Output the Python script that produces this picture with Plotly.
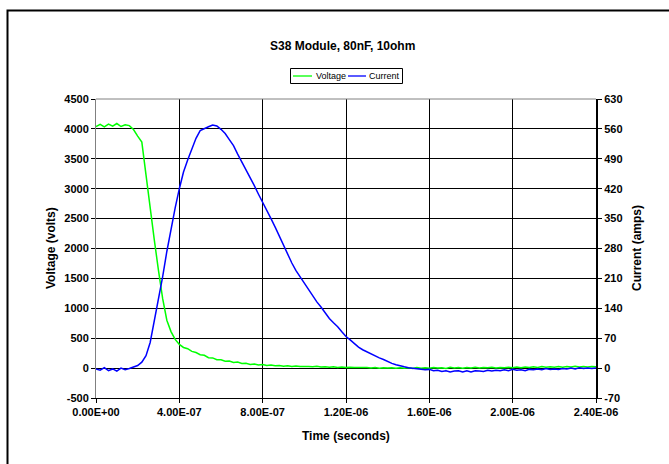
import plotly.graph_objects as go

# ---- data ----
time_ns = [
    0, 20, 40, 60, 80, 100, 120, 140, 160, 180,
    200, 220, 240, 260, 280, 300, 320, 340, 360, 380,
    400, 420, 440, 460, 480, 500, 520, 540, 560, 580,
    600, 620, 640, 660, 680, 700, 720, 740, 760, 780,
    800, 820, 840, 860, 880, 900, 920, 940, 960, 980,
    1000, 1020, 1040, 1060, 1080, 1100, 1120, 1140, 1160, 1180,
    1200, 1220, 1240, 1260, 1280, 1300, 1320, 1340, 1360, 1380,
    1400, 1420, 1440, 1460, 1480, 1500, 1520, 1540, 1560, 1580,
    1600, 1620, 1640, 1660, 1680, 1700, 1720, 1740, 1760, 1780,
    1800, 1820, 1840, 1860, 1880, 1900, 1920, 1940, 1960, 1980,
    2000, 2020, 2040, 2060, 2080, 2100, 2120, 2140, 2160, 2180,
    2200, 2220, 2240, 2260, 2280, 2300, 2320, 2340, 2360, 2380,
    2400,
]

voltage_v = [
    4040, 4075, 4035, 4080, 4045, 4090, 4040, 4070, 4055, 3990,
    3880, 3780, 3230, 2630, 2140, 1630, 1160, 800, 610, 480,
    395, 345, 325, 280, 260, 225, 215, 175, 170, 140,
    140, 115, 120, 95, 100, 78, 82, 62, 70, 52,
    60, 45, 52, 38, 45, 33, 40, 28, 36, 26,
    29, 27, 22, 30, 20, 24, 15, 22, 12, 18,
    10, 16, 8, 12, 4, 10, 2, 8, -2, 6,
    0, 5, -4, 6, -3, 4, -5, 8, -2, 5,
    -4, 10, 0, 6, -5, 12, 2, 8, -3, 10,
    3, 12, 0, 9, 4, 14, 2, 11, 6, 16,
    5, 18, 8, 20, 10, 22, 12, 25, 14, 24,
    16, 28, 15, 26, 18, 30, 17, 27, 20, 28,
    22,
]

current_a = [
    -2, -5, 1, -6, -2, -7, 0, -4, -1, 2,
    6, 14, 29, 60, 109, 164, 214, 273, 326, 375,
    420, 459, 487, 514, 538, 556, 561, 565, 569, 567,
    559, 549, 535, 521, 501, 483, 465, 447, 427, 407,
    389, 370, 350, 330, 308, 287, 265, 246, 228, 213,
    197, 182, 168, 155, 143, 129, 116, 106, 97, 85,
    74, 66, 57, 49, 43, 38, 33, 28, 24, 20,
    15, 11, 8, 5, 3, 1, 0, -1, -2, -4,
    -3, -6, -5, -8, -6, -9, -7, -6, -9, -6,
    -9, -6, -7, -8, -5, -7, -5, -6, -4, -6,
    -3, -5, -4, -6, -3, -4, -2, -4, -1, -3,
    -2, -3, -1, -2, 0, -2, 1, -1, 0, -1,
    0,
]

x_tick_vals = [0, 4e-7, 8e-7, 1.2e-6, 1.6e-6, 2.0e-6, 2.4e-6]
x_tick_labels = ["0.00E+00", "4.00E-07", "8.00E-07", "1.20E-06",
                 "1.60E-06", "2.00E-06", "2.40E-06"]
y_tick_vals = [-500, 0, 500, 1000, 1500, 2000, 2500, 3000, 3500, 4000, 4500]
y_tick_labels = ["-500", "0", "500", "1000", "1500", "2000", "2500",
                 "3000", "3500", "4000", "4500"]
y2_tick_vals = [-70, 0, 70, 140, 210, 280, 350, 420, 490, 560, 630]
y2_tick_labels = ["-70", "0", "70", "140", "210", "280", "350",
                  "420", "490", "560", "630"]

series_names = ["Voltage", "Current"]
title_text = "S38 Module, 80nF, 10ohm"
x_title = "Time (seconds)"
y_title = "Voltage (volts)"
y2_title = "Current (amps)"

time_s = [t * 1e-9 for t in time_ns]

# ---- layout geometry (pixels) ----
W, H = 669, 464
L, R, T, B = 96, 73, 99, 66
PW, PH = W - L - R, H - T - B


def px(x):
    return (x - L) / PW


def py(y):
    return (H - B - y) / PH


FONT = "Liberation Sans, Arial, sans-serif"
GREEN = "#00FF00"
BLUE = "#0000FF"

fig = go.Figure()
fig.add_trace(go.Scatter(x=time_s, y=voltage_v, mode="lines", name=series_names[0],
                         line=dict(color=GREEN, width=1.5), yaxis="y"))
fig.add_trace(go.Scatter(x=time_s, y=current_a, mode="lines", name=series_names[1],
                         line=dict(color=BLUE, width=1.5), yaxis="y2"))

tickfont = dict(family=FONT, size=11, color="black", weight="bold")

fig.update_layout(
    width=W, height=H,
    margin=dict(l=L, r=R, t=T, b=B, pad=0),
    paper_bgcolor="white", plot_bgcolor="white",
    showlegend=False,
    xaxis=dict(range=[0, 2.4e-6], tickvals=x_tick_vals, ticktext=x_tick_labels,
               showgrid=True, gridcolor="black", gridwidth=1,
               zeroline=False, showline=True, linecolor="black", linewidth=1,
               ticks="outside", ticklen=4, tickcolor="black",
               tickfont=tickfont),
    yaxis=dict(range=[-500, 4500], tickvals=y_tick_vals, ticktext=y_tick_labels,
               showgrid=True, gridcolor="black", gridwidth=1,
               zeroline=False, showline=True, linecolor="#808080", linewidth=1,
               ticks="outside", ticklen=4, tickcolor="black",
               tickfont=tickfont),
    yaxis2=dict(range=[-70, 630], tickvals=y2_tick_vals, ticktext=y2_tick_labels,
                overlaying="y", side="right",
                showgrid=False, zeroline=False, showline=True,
                linecolor="black", linewidth=2,
                ticks="outside", ticklen=4, tickcolor="black",
                tickfont=tickfont),
)

shapes = []
# plot area border (gray, top)
shapes.append(dict(type="line", xref="paper", yref="paper", x0=0, x1=1, y0=1, y1=1,
                   line=dict(color="#808080", width=1)))
# outer chart frame (extends beyond the screenshot at right and bottom)
shapes.append(dict(type="rect", xref="paper", yref="paper",
                   x0=px(7.5), x1=px(W + 20), y0=py(H + 20), y1=py(10.5),
                   line=dict(color="black", width=2), layer="above"))
# legend box
shapes.append(dict(type="rect", xref="paper", yref="paper",
                   x0=px(290.5), x1=px(402.5), y0=py(83.5), y1=py(68.5),
                   line=dict(color="black", width=1), fillcolor="white"))
shapes.append(dict(type="line", xref="paper", yref="paper",
                   x0=px(293), x1=px(312), y0=py(76), y1=py(76),
                   line=dict(color=GREEN, width=1.3)))
shapes.append(dict(type="line", xref="paper", yref="paper",
                   x0=px(348), x1=px(366), y0=py(76), y1=py(76),
                   line=dict(color=BLUE, width=1.3)))

annotations = [
    dict(text=title_text, x=px(342), y=py(46), xref="paper", yref="paper",
         showarrow=False, xanchor="center", yanchor="middle",
         font=dict(family=FONT, size=12, color="black", weight="bold")),
    dict(text=x_title, x=px(346), y=py(436), xref="paper", yref="paper",
         showarrow=False, xanchor="center", yanchor="middle",
         font=dict(family=FONT, size=12, color="black", weight="bold")),
    dict(text=y_title, x=px(51), y=py(248), xref="paper", yref="paper",
         showarrow=False, xanchor="center", yanchor="middle", textangle=-90,
         font=dict(family=FONT, size=12, color="black", weight="bold")),
    dict(text=y2_title, x=px(637), y=py(248), xref="paper", yref="paper",
         showarrow=False, xanchor="center", yanchor="middle", textangle=-90,
         font=dict(family=FONT, size=12, color="black", weight="bold")),
    dict(text=series_names[0], x=px(314), y=py(76), xref="paper", yref="paper",
         showarrow=False, xanchor="left", yanchor="middle",
         font=dict(family=FONT, size=9, color="black")),
    dict(text=series_names[1], x=px(367), y=py(76), xref="paper", yref="paper",
         showarrow=False, xanchor="left", yanchor="middle",
         font=dict(family=FONT, size=9, color="black")),
]

fig.update_layout(shapes=shapes, annotations=annotations)
fig.write_html("out.html", config={"displayModeBar": False},
               post_script="document.body.style.margin='0px';document.body.style.overflow='hidden';")
